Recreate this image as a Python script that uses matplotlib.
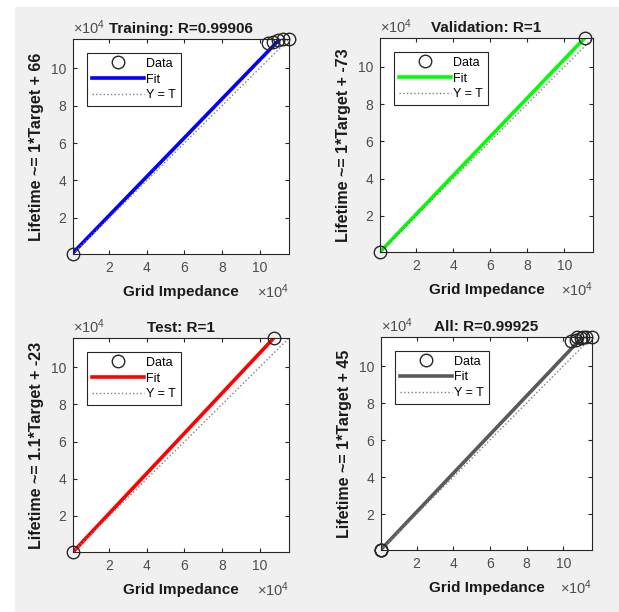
import numpy as np
import matplotlib
matplotlib.use('Agg')
import matplotlib.pyplot as plt
from matplotlib.ticker import MultipleLocator, FuncFormatter
from matplotlib.patches import Rectangle

plt.rcParams['font.family'] = ['Liberation Sans', 'DejaVu Sans']
plt.rcParams['mathtext.default'] = 'regular'

# targets (t) and network outputs (y)
train_t = [600, 104300, 107000, 109700, 112400, 115700]
train_y = [600, 113400, 114000, 115000, 115600, 115600]
val_t = [600, 111000]
val_y = [600, 115500]
test_t = [600, 107600]
test_y = [600, 115700]
all_t = train_t + val_t + test_t
all_y = train_y + val_y + test_y

titles = ['Training: R=0.99906', 'Validation: R=1', 'Test: R=1', 'All: R=0.99925']
ylabels = ['Lifetime ~= 1*Target + 66', 'Lifetime ~= 1*Target + -73',
           'Lifetime ~= 1.1*Target + -23', 'Lifetime ~= 1*Target + 45']
fit_colors = ['#0000ff', '#00ff00', '#ff0000', '#5a5a5a']
sets = [(train_t, train_y), (val_t, val_y), (test_t, test_y), (all_t, all_y)]

W, H = 619, 612
boxes = [(73, 39, 289, 254), (380, 38, 593, 252),
         (73, 338, 289, 552), (381, 337, 592, 550)]

fig = plt.figure(figsize=(W / 100, H / 100), dpi=100, facecolor='white')
fig.patches.append(Rectangle((15 / W, 0), 1 - 15 / W, 1 - 7 / H, transform=fig.transFigure,
                             facecolor='#f0f0f0', edgecolor='none', zorder=-10))

for k in range(4):
    x0, y0, x1, y1 = boxes[k]
    ax = fig.add_axes([x0 / W, 1 - y1 / H, (x1 - x0) / W, (y1 - y0) / H])
    t = np.array(sets[k][0], dtype=float)
    y = np.array(sets[k][1], dtype=float)
    m, b = np.polyfit(t, y, 1)
    lim = np.array([min(t.min(), y.min()), max(t.max(), y.max())])

    ax.plot(t, y, 'o', mfc='none', mec='#262626', ms=9, mew=1.0, label='Data',
            zorder=3, clip_on=False)
    ax.plot(lim, lim * m + b, color=fit_colors[k], lw=2.6, label='Fit', zorder=2)
    ax.plot(lim, lim, ':', color='#7f7f7f', lw=1.0, label='Y = T', zorder=2)
    ax.set_xlim(lim)
    ax.set_ylim(lim)

    ax.xaxis.set_major_locator(MultipleLocator(20000))
    ax.yaxis.set_major_locator(MultipleLocator(20000))
    fmt = FuncFormatter(lambda v, p: '%g' % (v / 1e4))
    ax.xaxis.set_major_formatter(fmt)
    ax.yaxis.set_major_formatter(fmt)
    ax.tick_params(direction='in', length=3, width=0.8, color='#262626',
                   labelcolor='#4d4d4d', labelsize=10, top=True, right=True, pad=5)
    for s in ax.spines.values():
        s.set_color('#262626')
        s.set_linewidth(0.8)

    ax.set_title(titles[k], fontsize=11, fontweight='bold', color='#1a1a1a', pad=4)
    ax.set_xlabel('Grid Impedance', fontsize=11, fontweight='bold', color='#1a1a1a', labelpad=7)
    ax.set_ylabel(ylabels[k], fontsize=11.5, fontweight='bold', color='#1a1a1a', labelpad=5)

    hgt = y1 - y0
    ax.text(0.0, 1 + 2 / hgt, r'$\times10^{4}$', transform=ax.transAxes, ha='left', va='bottom',
            fontsize=10.5, color='#4d4d4d')
    ax.text(1.0, -44 / hgt, r'$\times10^{4}$', transform=ax.transAxes, ha='right', va='baseline',
            fontsize=10.5, color='#4d4d4d')

    leg = ax.legend(loc='upper left', fontsize=9, numpoints=1, handlelength=4.2,
                    handletextpad=0.15, labelspacing=0.3, borderpad=0.4,
                    borderaxespad=1.1, fancybox=False, framealpha=1)
    leg.get_frame().set_edgecolor('#262626')
    leg.get_frame().set_linewidth(0.8)

fig.savefig('out.png', dpi=100, facecolor=fig.get_facecolor())
